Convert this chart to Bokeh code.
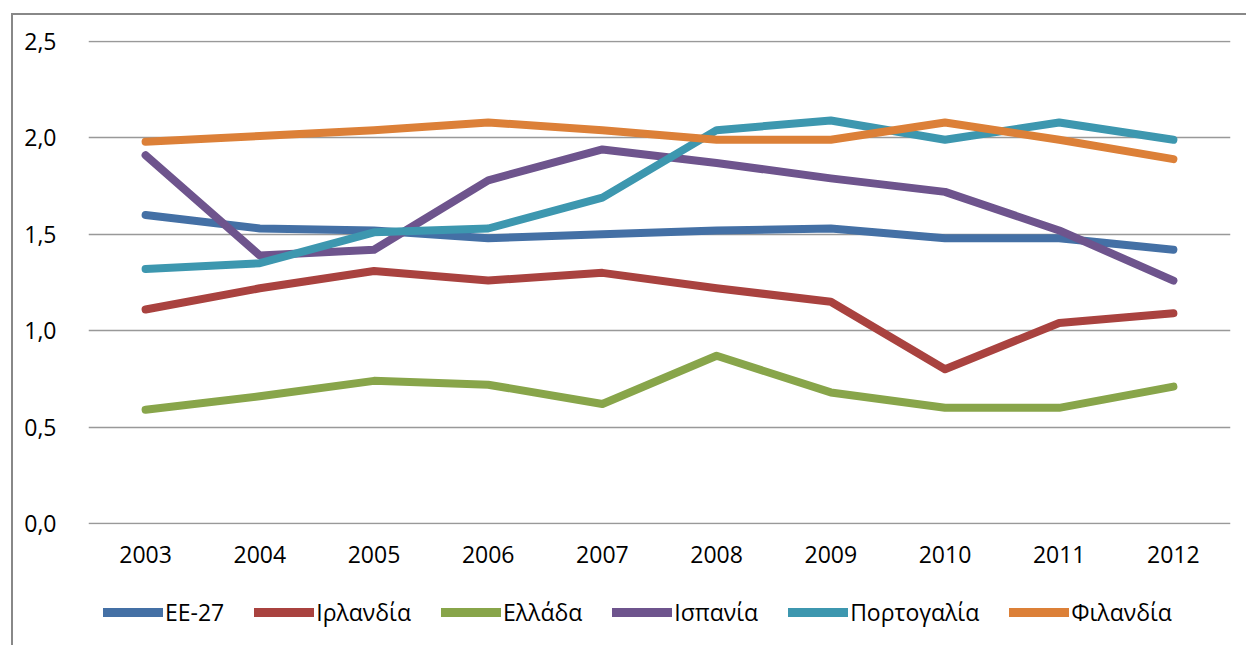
from bokeh.plotting import figure
from bokeh.models import FactorRange, Range1d, FixedTicker, CustomJSTickFormatter, Legend, LegendItem
from bokeh.layouts import column
from bokeh.embed import file_html
from bokeh.resources import INLINE

years = ["2003", "2004", "2005", "2006", "2007", "2008", "2009", "2010", "2011", "2012"]
ee27 = [1.60, 1.53, 1.52, 1.48, 1.50, 1.52, 1.53, 1.48, 1.48, 1.42]
irlandia = [1.11, 1.22, 1.31, 1.26, 1.30, 1.22, 1.15, 0.80, 1.04, 1.09]
ellada = [0.59, 0.66, 0.74, 0.72, 0.62, 0.87, 0.68, 0.60, 0.60, 0.71]
ispania = [1.91, 1.39, 1.42, 1.78, 1.94, 1.87, 1.79, 1.72, 1.52, 1.26]
portogalia = [1.32, 1.35, 1.51, 1.53, 1.69, 2.04, 2.09, 1.99, 2.08, 1.99]
filandia = [1.98, 2.01, 2.04, 2.08, 2.04, 1.99, 1.99, 2.08, 1.99, 1.89]

series_names = ["ΕΕ-27", "Ιρλανδία", "Ελλάδα", "Ισπανία", "Πορτογαλία", "Φιλανδία"]
series_values = [ee27, irlandia, ellada, ispania, portogalia, filandia]
colors = ["#4470A5", "#A9423F", "#88A54A", "#6E548D", "#3D97AF", "#DC8038"]
y_ticks = [0.0, 0.5, 1.0, 1.5, 2.0, 2.5]

FONT = "Open Sans"
FS = "23px"
FRAME_COLOR = "#888888"
NAN = float("nan")

# ---- main chart ----
p = figure(frame_width=1140, frame_height=482, x_range=FactorRange(factors=years, range_padding=0),
           y_range=Range1d(-0.005, 2.505), output_backend="svg", toolbar_location=None,
           min_border_left=75, min_border_top=25, min_border_right=18, min_border_bottom=56)
p.styles = {"margin-left": "11px", "margin-top": "13px",
            "border-left": f"2px solid {FRAME_COLOR}", "border-top": f"2px solid {FRAME_COLOR}"}
p.outline_line_color = None
p.background_fill_color = "white"
p.border_fill_color = "white"

for vals, c in zip(series_values, colors):
    p.line(years, vals, line_color=c, line_width=8, line_cap="round", line_join="round")

p.xgrid.grid_line_color = None
p.ygrid.grid_line_color = "#999999"
p.ygrid.grid_line_width = 1.5
p.ygrid.ticker = FixedTicker(ticks=y_ticks)

p.yaxis.ticker = FixedTicker(ticks=y_ticks)
p.yaxis.formatter = CustomJSTickFormatter(code="return tick.toFixed(1).replace('.', ',');")
p.yaxis.axis_line_color = None
p.yaxis.major_tick_line_color = None
p.yaxis.minor_tick_line_color = None
p.yaxis.major_label_standoff = 26
p.yaxis.major_label_text_font = FONT
p.yaxis.major_label_text_font_size = FS
p.yaxis.major_label_text_color = "#000000"

p.xaxis.axis_line_color = None
p.xaxis.major_tick_line_color = None
p.xaxis.minor_tick_line_color = None
p.xaxis.major_label_standoff = 15
p.xaxis.major_label_text_font = FONT
p.xaxis.major_label_text_font_size = FS
p.xaxis.major_label_text_color = "#000000"

# ---- legend strip ----
lg = figure(frame_width=1140, frame_height=67, x_range=Range1d(0, 1), y_range=Range1d(0, 1),
            output_backend="svg", toolbar_location=None, x_axis_location=None, y_axis_location=None,
            min_border_left=75, min_border_top=0, min_border_right=18, min_border_bottom=0)
lg.styles = {"margin-left": "11px", "border-left": f"2px solid {FRAME_COLOR}"}
lg.outline_line_color = None
lg.xgrid.visible = False
lg.ygrid.visible = False
lg.background_fill_color = "white"
lg.border_fill_color = "white"

items = []
for name, c in zip(series_names, colors):
    r = lg.line(x=[NAN, NAN], y=[NAN, NAN], line_color=c, line_width=9, line_cap="round")
    items.append(LegendItem(label=name, renderers=[r]))

legend = Legend(items=items, orientation="horizontal", location=(15, 17),
                glyph_width=60, glyph_height=28, label_standoff=2, spacing=30,
                padding=0, margin=0, border_line_color=None, background_fill_alpha=0,
                label_text_font=FONT, label_text_font_size=FS, label_text_color="#000000")
lg.add_layout(legend, "center")

layout = column(p, lg, spacing=0)
open("out.html", "w").write(file_html(layout, INLINE))
